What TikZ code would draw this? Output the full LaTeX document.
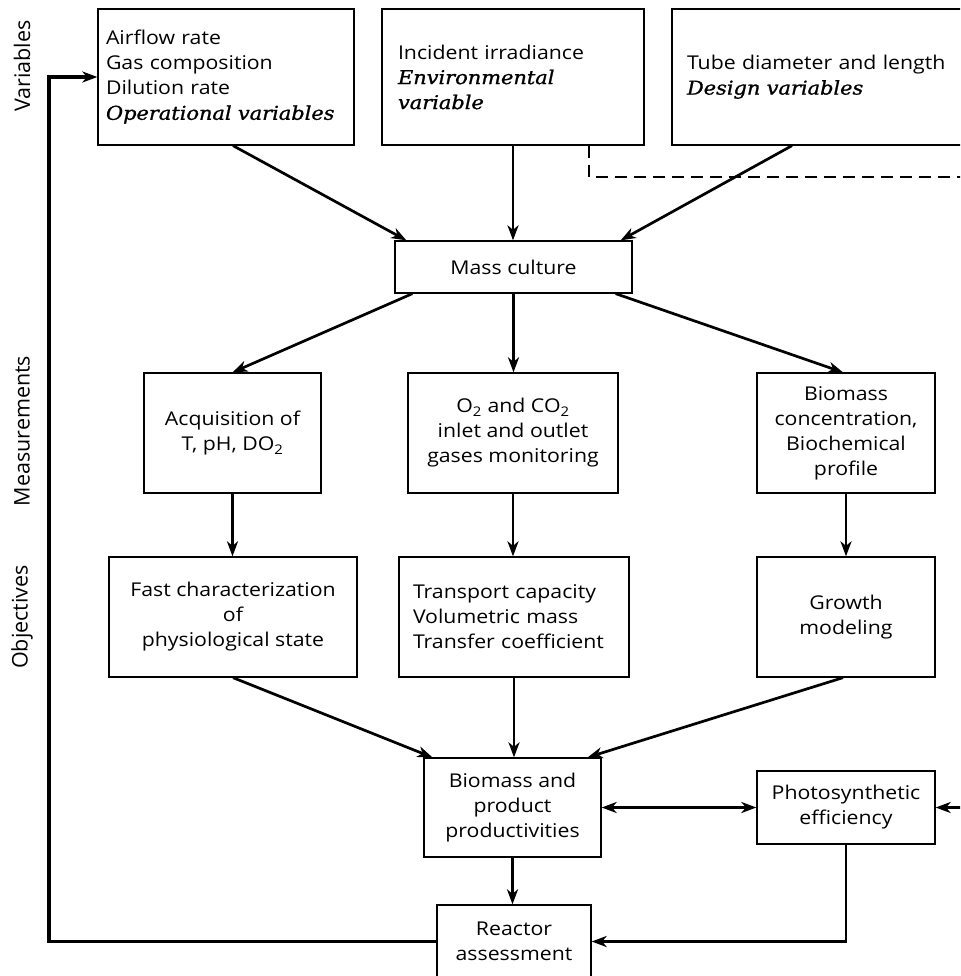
\documentclass[tikz,border=0pt]{standalone}
\usepackage{fontspec}
\setmainfont{Open Sans}[FakeStretch=1.12]
\newfontfamily\itser{DejaVu Serif}[FakeStretch=1.1, FakeBold=1.2]
\newfontfamily\sidefont{Open Sans}
\usetikzlibrary{arrows.meta}
\tikzset{
  box/.style={draw, line width=1.3pt, inner sep=0pt, align=center, font=\fontsize{19}{25}\selectfont},
  arr/.style={line width=2.7pt, -{Stealth[length=15pt,width=11pt,inset=4.5pt]}},
  dbl/.style={line width=2.7pt, {Stealth[length=15pt,width=11pt,inset=4.5pt]}-{Stealth[length=15pt,width=11pt,inset=4.5pt]}},
  side/.style={rotate=90, font=\sidefont\fontsize{21.5}{24}\selectfont}
}
\newcommand{\emv}[1]{\mbox{\itser\itshape #1}}
\begin{document}
\begin{tikzpicture}[x=1pt,y=-1pt]
\useasboundingbox (0,0) rectangle (960,976);
\clip (0,0) rectangle (960,976);

% side labels
\node[side] (lvar) at (22,66) {Variables};
\node[side] (lmeas) at (22,431) {Measurements};
\node[side] (lobj) at (22,617) {Objectives};

% variable boxes
\node[box, text width=240pt, inner xsep=8pt, align=left, minimum height=136pt] (op) at (226,77)
  {Airflow rate\\Gas composition\\Dilution rate\\\emv{Operational variables}};
\node[box, text width=230pt, inner xsep=16pt, align=left, minimum height=136pt] (env) at (513,77)
  {Incident irradiance\\\emv{Environmental}\\\emv{variable}};
\node[box, text width=270pt, inner xsep=15pt, align=left, minimum height=136pt] (tube) at (822,77)
  {Tube diameter and length\\\emv{Design variables}};

\node[box, minimum width=237pt, minimum height=52pt] (mass) at (513.5,267) {Mass culture};

% measurements
\node[box, minimum width=177pt, minimum height=120pt] (acq) at (232.5,433) {Acquisition of\\T, pH, DO\textsubscript{2}};
\node[box, minimum width=210pt, minimum height=120pt] (o2) at (513,433) {O\textsubscript{2} and CO\textsubscript{2}\\inlet and outlet\\gases monitoring};
\node[box, minimum width=178pt, minimum height=120pt] (bio) at (846,433) {Biomass\\concentration,\\Biochemical\\profile};

% objectives
\node[box, minimum width=248pt, minimum height=120pt] (fast) at (233,617) {Fast characterization\\of\\physiological state};
\node[box, text width=202pt, inner xsep=14pt, align=left, minimum height=120pt] (trans) at (514,617) {Transport capacity\\Volumetric mass\\Transfer coefficient};
\node[box, minimum width=178pt, minimum height=120pt] (growth) at (846,617) {Growth\\modeling};

% results
\node[box, minimum width=177pt, minimum height=99pt] (bp) at (512.5,807.5) {Biomass and\\product\\productivities};
\node[box, minimum width=178pt, minimum height=73pt] (photo) at (846,807.5) {Photosynthetic\\efficiency};
\node[box, minimum width=154pt, minimum height=73pt] (reactor) at (514,941.5) {Reactor\\assessment};

% connectors
\draw[arr] ([xshift=7pt]op.south) -- ([xshift=12pt]mass.north west);
\draw[arr] (env.south) -- (env.south |- mass.north);
\draw[arr] ([xshift=-30pt]tube.south) -- ([xshift=-12pt]mass.north east);

\draw[arr] ([xshift=18pt]mass.south west) -- (acq.north);
\draw[arr] (mass.south) -- (mass.south |- o2.north);
\draw[arr] ([xshift=-17pt]mass.south east) -- ([xshift=-3pt]bio.north);

\draw[arr] (acq.south) -- (acq.south |- fast.north);
\draw[arr] (o2.south) -- (o2.south |- trans.north);
\draw[arr] (bio.south) -- (bio.south |- growth.north);

\draw[arr] (fast.south) -- ([xshift=9pt]bp.north west);
\draw[arr] (trans.south) -- (trans.south |- bp.north);
\draw[arr] ([xshift=-3pt]growth.south) -- ([xshift=-14pt]bp.north east);

\draw[dbl] (bp.east) -- (photo.west);
\draw[arr] (bp.south) -- (bp.south |- reactor.north);
\draw[arr] (photo.south) |- (reactor.east);

\coordinate (fbc) at (49,0);
\draw[arr, line width=3.2pt] (reactor.west) -| (fbc |- op.west) -- (op.west);

\coordinate (dashR) at (990,177);
\draw[line width=2.4pt, dash pattern=on 12pt off 7pt] ([xshift=76pt]env.south) |- (dashR);
\coordinate (photoR) at (990,807.5);
\draw[arr] (photoR) -- (photo.east);
\end{tikzpicture}
\end{document}
